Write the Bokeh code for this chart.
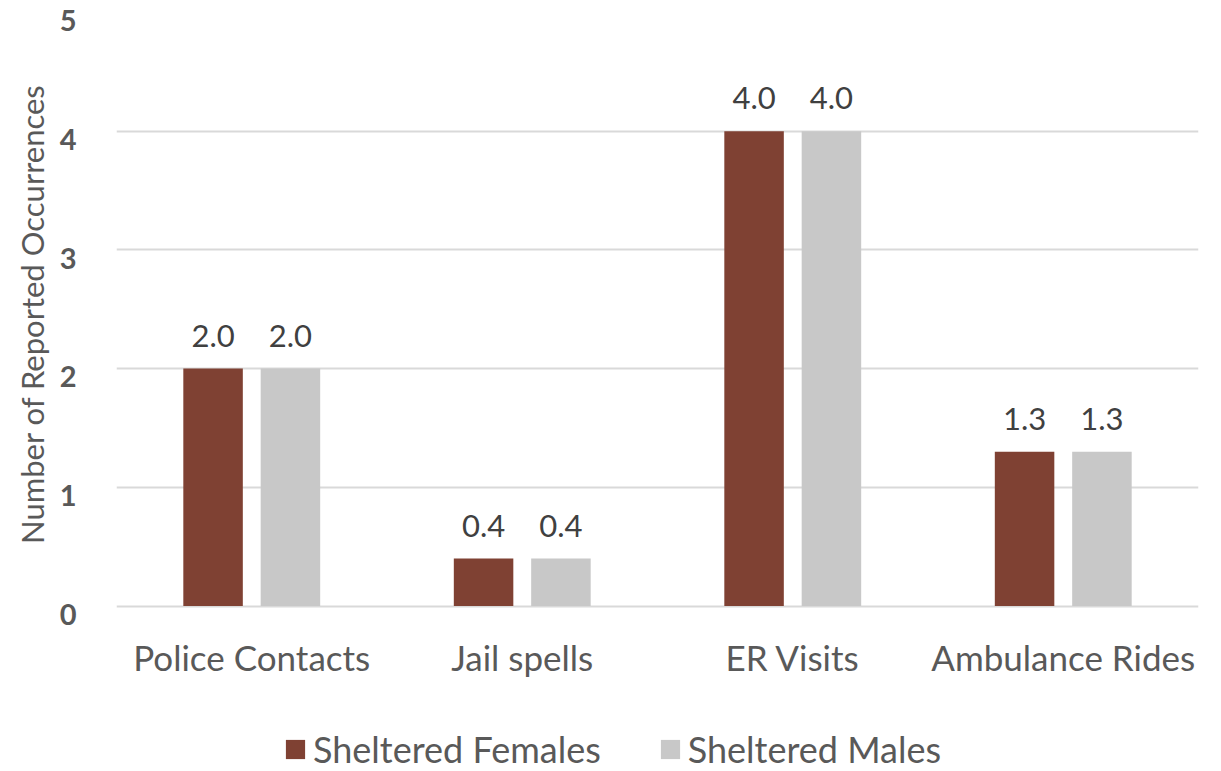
from bokeh.plotting import figure
from bokeh.layouts import column
from bokeh.models import ColumnDataSource, FactorRange, FixedTicker, Legend, LegendItem, Range1d
from bokeh.transform import dodge
from bokeh.core.properties import value
from bokeh.embed import file_html
from bokeh.resources import INLINE

categories = ["Police Contacts", "Jail spells", "ER Visits", "Ambulance Rides"]
females = [2.0, 0.4, 4.0, 1.3]
males = [2.0, 0.4, 4.0, 1.3]
series_names = ["Sheltered Females", "Sheltered Males"]
colors = ["#7F4133", "#C8C8C8"]
y_ticks = [0, 1, 2, 3, 4, 5]

src = ColumnDataSource(dict(
    cat=categories,
    f=females,
    m=males,
    fl=[f"{v:.1f}" for v in females],
    ml=[f"{v:.1f}" for v in males],
))

FONT = "Lato"
TXT = "#595959"

# tick labels sit slightly below their gridlines (as in the original)
LABEL_SHIFT = 0.07
label_ticks = [round(t - LABEL_SHIFT, 2) for t in y_ticks]
label_overrides = {lt: str(t) for lt, t in zip(label_ticks, y_ticks)}

p = figure(x_range=FactorRange(*categories, range_padding=0), y_range=Range1d(-0.08, 5),
           width=1221, height=705, output_backend="svg", toolbar_location=None,
           min_border_left=116, min_border_right=23, min_border_top=12, min_border_bottom=90)
p.outline_line_color = None
p.background_fill_color = "white"

bw = 0.22
off = 0.143
r1 = p.vbar(x=dodge("cat", -off, range=p.x_range), top="f", width=bw, source=src,
            fill_color=colors[0], line_color=None)
r2 = p.vbar(x=dodge("cat", off, range=p.x_range), top="m", width=bw, source=src,
            fill_color=colors[1], line_color=None)

for col, lab, d in [("f", "fl", -off), ("m", "ml", off)]:
    p.text(x=dodge("cat", d, range=p.x_range), y=col, text=lab, source=src,
           text_align="center", text_baseline="bottom", y_offset=-22,
           text_font=value(FONT), text_font_size="31px", text_color="#404040")

# axes
p.xaxis.axis_line_color = None
p.xaxis.major_tick_line_color = None
p.xaxis.minor_tick_line_color = None
p.xaxis.major_label_text_font = FONT
p.xaxis.major_label_text_font_size = "35px"
p.xaxis.major_label_text_color = TXT
p.xaxis.major_label_standoff = 14

p.yaxis.ticker = FixedTicker(ticks=label_ticks)
p.yaxis.major_label_overrides = label_overrides
p.yaxis.axis_line_color = None
p.yaxis.major_tick_line_color = None
p.yaxis.minor_tick_line_color = None
p.yaxis.major_label_text_font = FONT
p.yaxis.major_label_text_font_style = "bold"
p.yaxis.major_label_text_font_size = "29px"
p.yaxis.major_label_text_color = TXT
p.yaxis.major_label_standoff = 34
p.yaxis.axis_label = "Number of Reported Occurrences"
p.yaxis.axis_label_text_font = FONT
p.yaxis.axis_label_text_font_style = "normal"
p.yaxis.axis_label_text_font_size = "31px"
p.yaxis.axis_label_text_color = TXT
p.yaxis.axis_label_standoff = 6

p.xgrid.grid_line_color = None
p.ygrid.grid_line_color = "#D9D9D9"
p.ygrid.grid_line_width = 2
p.ygrid.ticker = FixedTicker(ticks=y_ticks)

# legend strip
lg = figure(width=1221, height=66, output_backend="svg", toolbar_location=None,
            x_range=Range1d(0, 1), y_range=Range1d(0, 1),
            x_axis_type=None, y_axis_type=None,
            min_border_left=0, min_border_right=0, min_border_top=0, min_border_bottom=0)
lg.outline_line_color = None
lg.xgrid.visible = False
lg.ygrid.visible = False
offscreen = ColumnDataSource(dict(x=[5.0], top=[0.0]))
l1 = lg.vbar(x="x", top="top", width=0.1, source=offscreen, fill_color=colors[0], line_color=None)
l2 = lg.vbar(x="x", top="top", width=0.1, source=offscreen, fill_color=colors[1], line_color=None)

legend = Legend(items=[LegendItem(label=series_names[0], renderers=[l1]),
                       LegendItem(label=series_names[1], renderers=[l2])],
                orientation="horizontal", location=(167, 0),
                label_text_font=FONT, label_text_font_size="36px", label_text_color=TXT,
                glyph_width=24, glyph_height=24, label_standoff=6, spacing=57,
                padding=0, margin=0, border_line_color=None, background_fill_alpha=0)
lg.add_layout(legend)

layout = column(p, lg, spacing=0)
open("out.html", "w").write(file_html(layout, INLINE))
